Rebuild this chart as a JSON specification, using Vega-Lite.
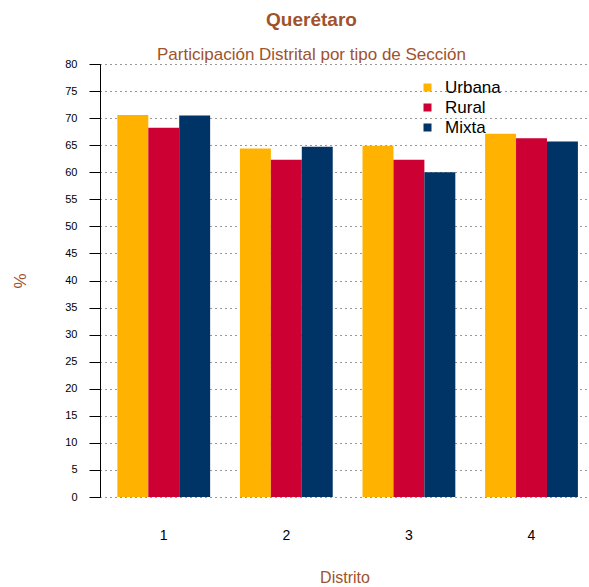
{
  "$schema": "https://vega.github.io/schema/vega-lite/v6.json",
  "width": 489,
  "height": 433,
  "autosize": "none",
  "padding": {"left": 100, "top": 64, "right": 0, "bottom": 90},
  "background": "white",
  "title": {
    "text": "Querétaro",
    "subtitle": "Participación Distrital por tipo de Sección",
    "anchor": "middle",
    "dx": -33,
    "offset": -5,
    "font": "Liberation Sans",
    "fontSize": 19,
    "fontWeight": "bold",
    "color": "#A0522D",
    "subtitleFont": "Liberation Sans",
    "subtitleFontSize": 17,
    "subtitleColor": "#A0522D",
    "subtitlePadding": 17
  },
  "data": {
    "values": [
      {"distrito": "1", "tipo": "Urbana", "valor": 70.6},
      {"distrito": "1", "tipo": "Rural", "valor": 68.2},
      {"distrito": "1", "tipo": "Mixta", "valor": 70.5},
      {"distrito": "2", "tipo": "Urbana", "valor": 64.4},
      {"distrito": "2", "tipo": "Rural", "valor": 62.3},
      {"distrito": "2", "tipo": "Mixta", "valor": 64.7},
      {"distrito": "3", "tipo": "Urbana", "valor": 64.9},
      {"distrito": "3", "tipo": "Rural", "valor": 62.3},
      {"distrito": "3", "tipo": "Mixta", "valor": 60.0},
      {"distrito": "4", "tipo": "Urbana", "valor": 67.1},
      {"distrito": "4", "tipo": "Rural", "valor": 66.3},
      {"distrito": "4", "tipo": "Mixta", "valor": 65.7}
    ]
  },
  "mark": {"type": "bar"},
  "encoding": {
    "x": {
      "field": "distrito",
      "type": "nominal",
      "scale": {"paddingInner": 0.243, "paddingOuter": 0.116, "align": 0.61},
      "axis": {
        "title": "Distrito",
        "labelAngle": 0,
        "domain": false,
        "ticks": false,
        "labelPadding": 31,
        "labelFont": "Liberation Sans",
        "labelFontSize": 14,
        "labelColor": "#000000",
        "titleFont": "Liberation Sans",
        "titleFontSize": 16,
        "titleFontWeight": "normal",
        "titleColor": "#A0522D",
        "titlePadding": 27
      }
    },
    "xOffset": {
      "field": "tipo",
      "type": "nominal",
      "sort": ["Urbana", "Rural", "Mixta"],
      "scale": {"paddingInner": 0, "paddingOuter": 0}
    },
    "y": {
      "field": "valor",
      "type": "quantitative",
      "scale": {"domain": [0, 80], "nice": false},
      "axis": {
        "title": "%",
        "values": [0, 5, 10, 15, 20, 25, 30, 35, 40, 45, 50, 55, 60, 65, 70, 75, 80],
        "grid": true,
        "gridDash": [1, 4],
        "gridColor": "#000000",
        "gridOpacity": 0.8,
        "domainColor": "#000000",
        "tickColor": "#000000",
        "tickSize": 11,
        "labelPadding": 12,
        "labelFont": "Liberation Sans",
        "labelFontSize": 11,
        "labelColor": "#000000",
        "titleFont": "Liberation Sans",
        "titleFontSize": 17,
        "titleFontWeight": "normal",
        "titleColor": "#A0522D",
        "titlePadding": 35
      }
    },
    "color": {
      "field": "tipo",
      "type": "nominal",
      "sort": ["Urbana", "Rural", "Mixta"],
      "scale": {"domain": ["Urbana", "Rural", "Mixta"], "range": ["#FFB300", "#CC0033", "#003366"]},
      "legend": {
        "title": null,
        "orient": "none",
        "legendX": 319,
        "legendY": 15,
        "symbolType": "square",
        "symbolSize": 64,
        "symbolStrokeWidth": 0,
        "labelFont": "Liberation Sans",
        "labelFontSize": 17,
        "labelColor": "#000000",
        "labelOffset": 9,
        "rowPadding": 2
      }
    }
  },
  "config": {"view": {"stroke": null}}
}
